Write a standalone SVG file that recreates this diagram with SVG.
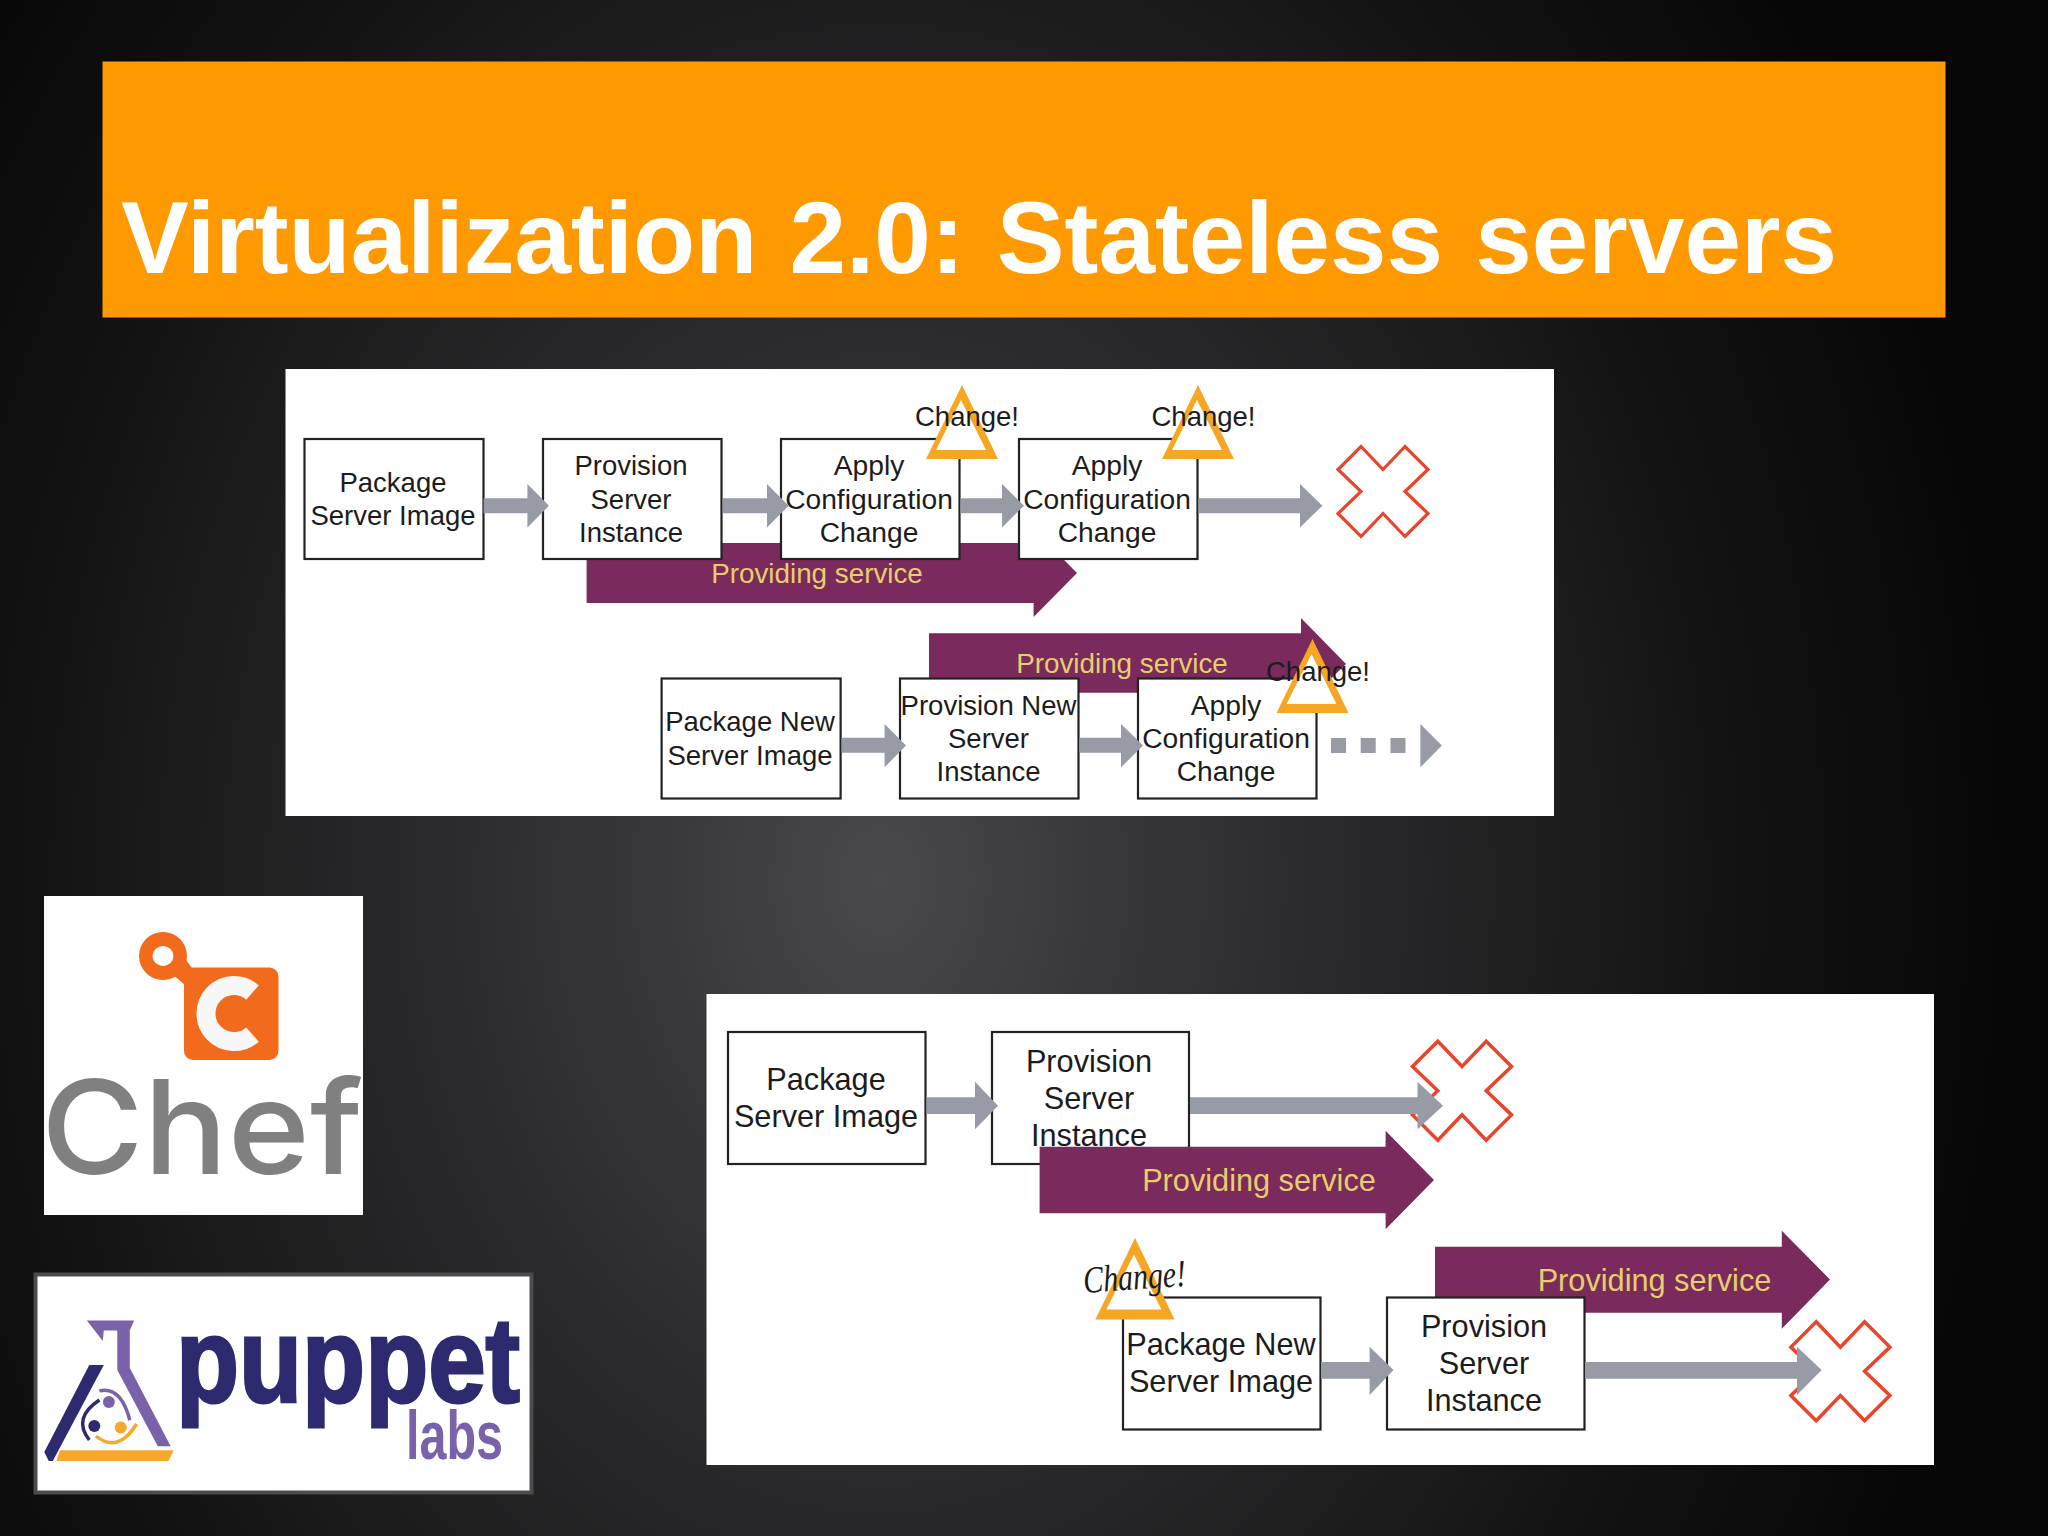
<svg xmlns="http://www.w3.org/2000/svg" width="2048" height="1536" viewBox="0 0 2048 1536">
<style>
.panel{fill:#fff}
.box{fill:#fff;stroke:#222;stroke-width:2.2}
.t{font-family:"Liberation Sans",Arial,sans-serif;font-size:27.5px;fill:#1c1c1c;text-anchor:middle}
.c{font-size:28.2px}
.l{font-size:30.7px}
.svc{font-family:"Liberation Sans",Arial,sans-serif;font-size:27.8px;fill:#e6cf6a;text-anchor:middle}
.svcl{font-size:30.7px}
.ga{fill:#969ba6}
.pa{fill:#7b2a5e}
.x{fill:#fff;stroke:#e8452c;stroke-width:3.2;stroke-linejoin:miter}
</style>
<defs>
<radialGradient id="bg" gradientUnits="userSpaceOnUse" cx="0" cy="0" r="1" gradientTransform="translate(880 880) scale(1150 1500)">
<stop offset="0" stop-color="#49494c"/>
<stop offset="0.2" stop-color="#38383b"/>
<stop offset="0.42" stop-color="#28282a"/>
<stop offset="0.72" stop-color="#141415"/>
<stop offset="1" stop-color="#060606"/>
</radialGradient>
<g id="warn"><polygon points="0,0 36,74 -36,74" fill="#f5a623"/><polygon points="-1,15 24,65 -26,65" fill="#fff"/></g>
<polygon id="cross" class="x" points="-22,-45 0,-22 22,-45 45,-22 22,0 45,22 22,45 0,22 -22,45 -45,22 -22,0 -45,-22"/>
</defs>
<rect id="background" width="2048" height="1536" fill="url(#bg)"/>
<g id="title">
<rect x="102.5" y="61.5" width="1843" height="256" fill="#ff9900"/>
<text x="121" y="272.5" font-family="'Liberation Sans',Arial,sans-serif" font-weight="700" font-size="102" fill="#fff" word-spacing="4" textLength="1716" lengthAdjust="spacingAndGlyphs">Virtualization 2.0: Stateless servers</text>
</g>

<g id="panel-top">
<rect class="panel" x="285.5" y="369" width="1268.5" height="447"/>
<g id="service-bar-1"><polygon class="pa" points="586.6,543 1033.6,543 1033.6,529 1077,573 1033.6,617 1033.6,603 586.6,603"/></g>
<g id="service-bar-2"><polygon class="pa" points="929,633.3 1301,633.3 1301,618 1346,664 1301,708 1301,692.7 929,692.7"/></g>
<g id="box-package-1"><rect class="box" x="304.5" y="439" width="179" height="120"/><text class="t"><tspan x="393" y="491.7">Package</tspan><tspan x="393" y="525">Server Image</tspan></text></g>
<g id="box-provision-1"><rect class="box" x="543" y="439" width="178.5" height="120"/><text class="t"><tspan x="631" y="475">Provision</tspan><tspan x="631" y="508.5">Server</tspan><tspan x="631" y="541.5">Instance</tspan></text></g>
<g id="box-apply-1"><rect class="box" x="781" y="439" width="178.5" height="120"/><text class="t c"><tspan x="869" y="475">Apply</tspan><tspan x="869" y="508.5">Configuration</tspan><tspan x="869" y="541.5">Change</tspan></text></g>
<g id="box-apply-2"><rect class="box" x="1019" y="439" width="178.5" height="120"/><text class="t c"><tspan x="1107" y="475">Apply</tspan><tspan x="1107" y="508.5">Configuration</tspan><tspan x="1107" y="541.5">Change</tspan></text></g>
<g id="box-package-2"><rect class="box" x="661.6" y="678.5" width="179" height="120"/><text class="t"><tspan x="750" y="731">Package New</tspan><tspan x="750" y="765">Server Image</tspan></text></g>
<g id="box-provision-2"><rect class="box" x="900" y="678.5" width="178.5" height="120"/><text class="t"><tspan x="988.5" y="715">Provision New</tspan><tspan x="988.5" y="748">Server</tspan><tspan x="988.5" y="781">Instance</tspan></text></g>
<g id="box-apply-3"><rect class="box" x="1138" y="678.5" width="178.5" height="120"/><text class="t c"><tspan x="1226" y="715">Apply</tspan><tspan x="1226" y="748">Configuration</tspan><tspan x="1226" y="781">Change</tspan></text></g>
<g id="connectors-top">
<polygon class="ga" points="483.6,498.3 527.4,498.3 527.4,484 549,505.7 527.4,527.4 527.4,513.3 483.6,513.3"/>
<polygon class="ga" points="723,498.3 767,498.3 767,484 788.7,505.7 767,527.4 767,513.3 723,513.3"/>
<polygon class="ga" points="960.5,498.3 1002,498.3 1002,484 1024,505.7 1002,527.4 1002,513.3 960.5,513.3"/>
<polygon class="ga" points="1198.5,498.3 1300,498.3 1300,484 1322.4,505.7 1300,527.4 1300,513.3 1198.5,513.3"/>
<polygon class="ga" points="841.6,737.7 884.6,737.7 884.6,724 906,745.5 884.6,767.3 884.6,752.7 841.6,752.7"/>
<polygon class="ga" points="1079.5,737.7 1121,737.7 1121,724 1143,745.5 1121,767.3 1121,752.7 1079.5,752.7"/>
<rect class="ga" x="1331" y="738" width="15" height="15"/>
<rect class="ga" x="1360.7" y="738" width="15" height="15"/>
<rect class="ga" x="1390.5" y="738" width="15" height="15"/>
<polygon class="ga" points="1420.4,724 1441.8,745.5 1420.4,767.3"/>
</g>
<text class="svc" x="817" y="582.7">Providing service</text>
<text class="svc" x="1122" y="672.7">Providing service</text>
<use href="#warn" x="962" y="385"/>
<use href="#warn" x="1198" y="385"/>
<use href="#warn" x="1312.5" y="639"/>
<text class="t" x="967" y="426">Change!</text>
<text class="t" x="1203.5" y="426">Change!</text>
<text class="t" x="1318" y="680.5">Change!</text>
<use href="#cross" x="1383" y="491.5"/>
</g>

<g id="chef-logo">
<rect x="44" y="896" width="319" height="319" fill="#fff"/>
<circle cx="163" cy="956" r="24" fill="#f26b1d"/>
<polygon points="180,952 192,968 186,986 170,972" fill="#f26b1d"/>
<rect x="184" y="967.5" width="94.5" height="92.5" rx="9" fill="#f26b1d"/>
<ellipse cx="163" cy="956" rx="10.5" ry="10" fill="#fff"/>
<path d="M252.5 992.5 A28 28 0 1 0 252.5 1034.5" fill="none" stroke="#f7f7f7" stroke-width="19"/>
<text x="41" y="1174" font-family="Inter,'Liberation Sans',sans-serif" font-size="130" font-weight="500" fill="#808080" textLength="322" lengthAdjust="spacingAndGlyphs">Chef</text>
</g>

<g id="puppet-logo">
<rect x="35.5" y="1274.5" width="496" height="218" fill="#fff" stroke="#4c4c4e" stroke-width="4"/>
<polygon points="86.9,1320.6 134.2,1320.6 129.8,1330.6 129.8,1368 170.7,1446.3 157.8,1446.3 117.3,1370 117.3,1330.6 103.8,1330.6 102.8,1341" fill="#7a62ab"/>
<polygon points="89.3,1365 103.8,1365 52.8,1461 48.7,1461 44.3,1452" fill="#2e2a70"/>
<polygon points="59.9,1450.3 173.7,1450.3 168.6,1461 56.5,1461" fill="#f5a82b"/>
<circle cx="108.9" cy="1402" r="6" fill="#7a62ab"/>
<circle cx="94.3" cy="1426" r="6" fill="#2e2a70"/>
<circle cx="120.7" cy="1427.4" r="6" fill="#f5a82b"/>
<path d="M99.4 1390.9 Q121 1386 129.8 1420.2" fill="none" stroke="#7a62ab" stroke-width="3.5"/>
<path d="M99.4 1400 Q72 1418 89.3 1440" fill="none" stroke="#2e2a70" stroke-width="3.5"/>
<path d="M96 1436 Q118 1454 136.6 1424" fill="none" stroke="#f5a82b" stroke-width="3.5"/>
<text x="176" y="1402" font-family="'Liberation Sans',Arial,sans-serif" font-weight="700" font-size="120" fill="#2e2a70" stroke="#2e2a70" stroke-width="3" textLength="344" lengthAdjust="spacingAndGlyphs">puppet</text>
<text x="406" y="1459" font-family="'Liberation Sans',Arial,sans-serif" font-weight="700" font-size="68" fill="#7a62ab" textLength="97" lengthAdjust="spacingAndGlyphs">labs</text>
</g>

<g id="panel-bottom">
<rect class="panel" x="706.5" y="994" width="1227.5" height="471"/>
<use href="#cross" transform="translate(1462 1090.7) scale(1.1)"/>
<use href="#cross" transform="translate(1840.4 1371.3) scale(1.1)"/>
<g id="box-package-3"><rect class="box" x="728" y="1032" width="197.5" height="132"/><text class="t l"><tspan x="826" y="1089.5">Package</tspan><tspan x="826" y="1127">Server Image</tspan></text></g>
<g id="box-provision-3"><rect class="box" x="992" y="1032" width="197" height="132"/><text class="t l"><tspan x="1089" y="1072">Provision</tspan><tspan x="1089" y="1108.5">Server</tspan><tspan x="1089" y="1145.5">Instance</tspan></text></g>
<g id="service-bar-3"><polygon class="pa" points="1039.6,1146.7 1385.6,1146.7 1385.6,1130.7 1434,1180 1385.6,1229.3 1385.6,1213.3 1039.6,1213.3"/><text class="svc svcl" x="1259" y="1190.7">Providing service</text></g>
<g id="service-bar-4"><polygon class="pa" points="1435,1246.7 1781.8,1246.7 1781.8,1230.7 1830,1279.5 1781.8,1328.7 1781.8,1312.7 1435,1312.7"/><text class="svc svcl" x="1654.5" y="1290.7">Providing service</text></g>
<g id="box-package-4"><rect class="box" x="1123" y="1297.5" width="197.5" height="132"/><text class="t l"><tspan x="1221" y="1354.5">Package New</tspan><tspan x="1221" y="1392">Server Image</tspan></text></g>
<g id="box-provision-4"><rect class="box" x="1387" y="1297.5" width="197.5" height="132"/><text class="t l"><tspan x="1484" y="1336.5">Provision</tspan><tspan x="1484" y="1373.5">Server</tspan><tspan x="1484" y="1410.5">Instance</tspan></text></g>
<g id="connectors-bottom">
<polygon class="ga" points="926.6,1097.3 975,1097.3 975,1081.7 998,1105.7 975,1129.3 975,1114 926.6,1114"/>
<polygon class="ga" points="1190,1097.3 1417.5,1097.3 1417.5,1081.7 1443,1105.7 1417.5,1129.3 1417.5,1114 1190,1114"/>
<polygon class="ga" points="1321,1362 1369.6,1362 1369.6,1346.7 1393.5,1370 1369.6,1395 1369.6,1378.7 1321,1378.7"/>
<polygon class="ga" points="1585,1362 1797,1362 1797,1346.7 1821.6,1370 1797,1395 1797,1378.7 1585,1378.7"/>
</g>
<use href="#warn" transform="translate(1135 1238) scale(1.1)"/>
<text x="1084" y="1293" transform="rotate(-4 1084 1293)" font-family="'Liberation Serif',serif" font-style="italic" font-size="38" fill="#1c1c1c" textLength="103" lengthAdjust="spacingAndGlyphs">Change!</text>
</g>
</svg>
